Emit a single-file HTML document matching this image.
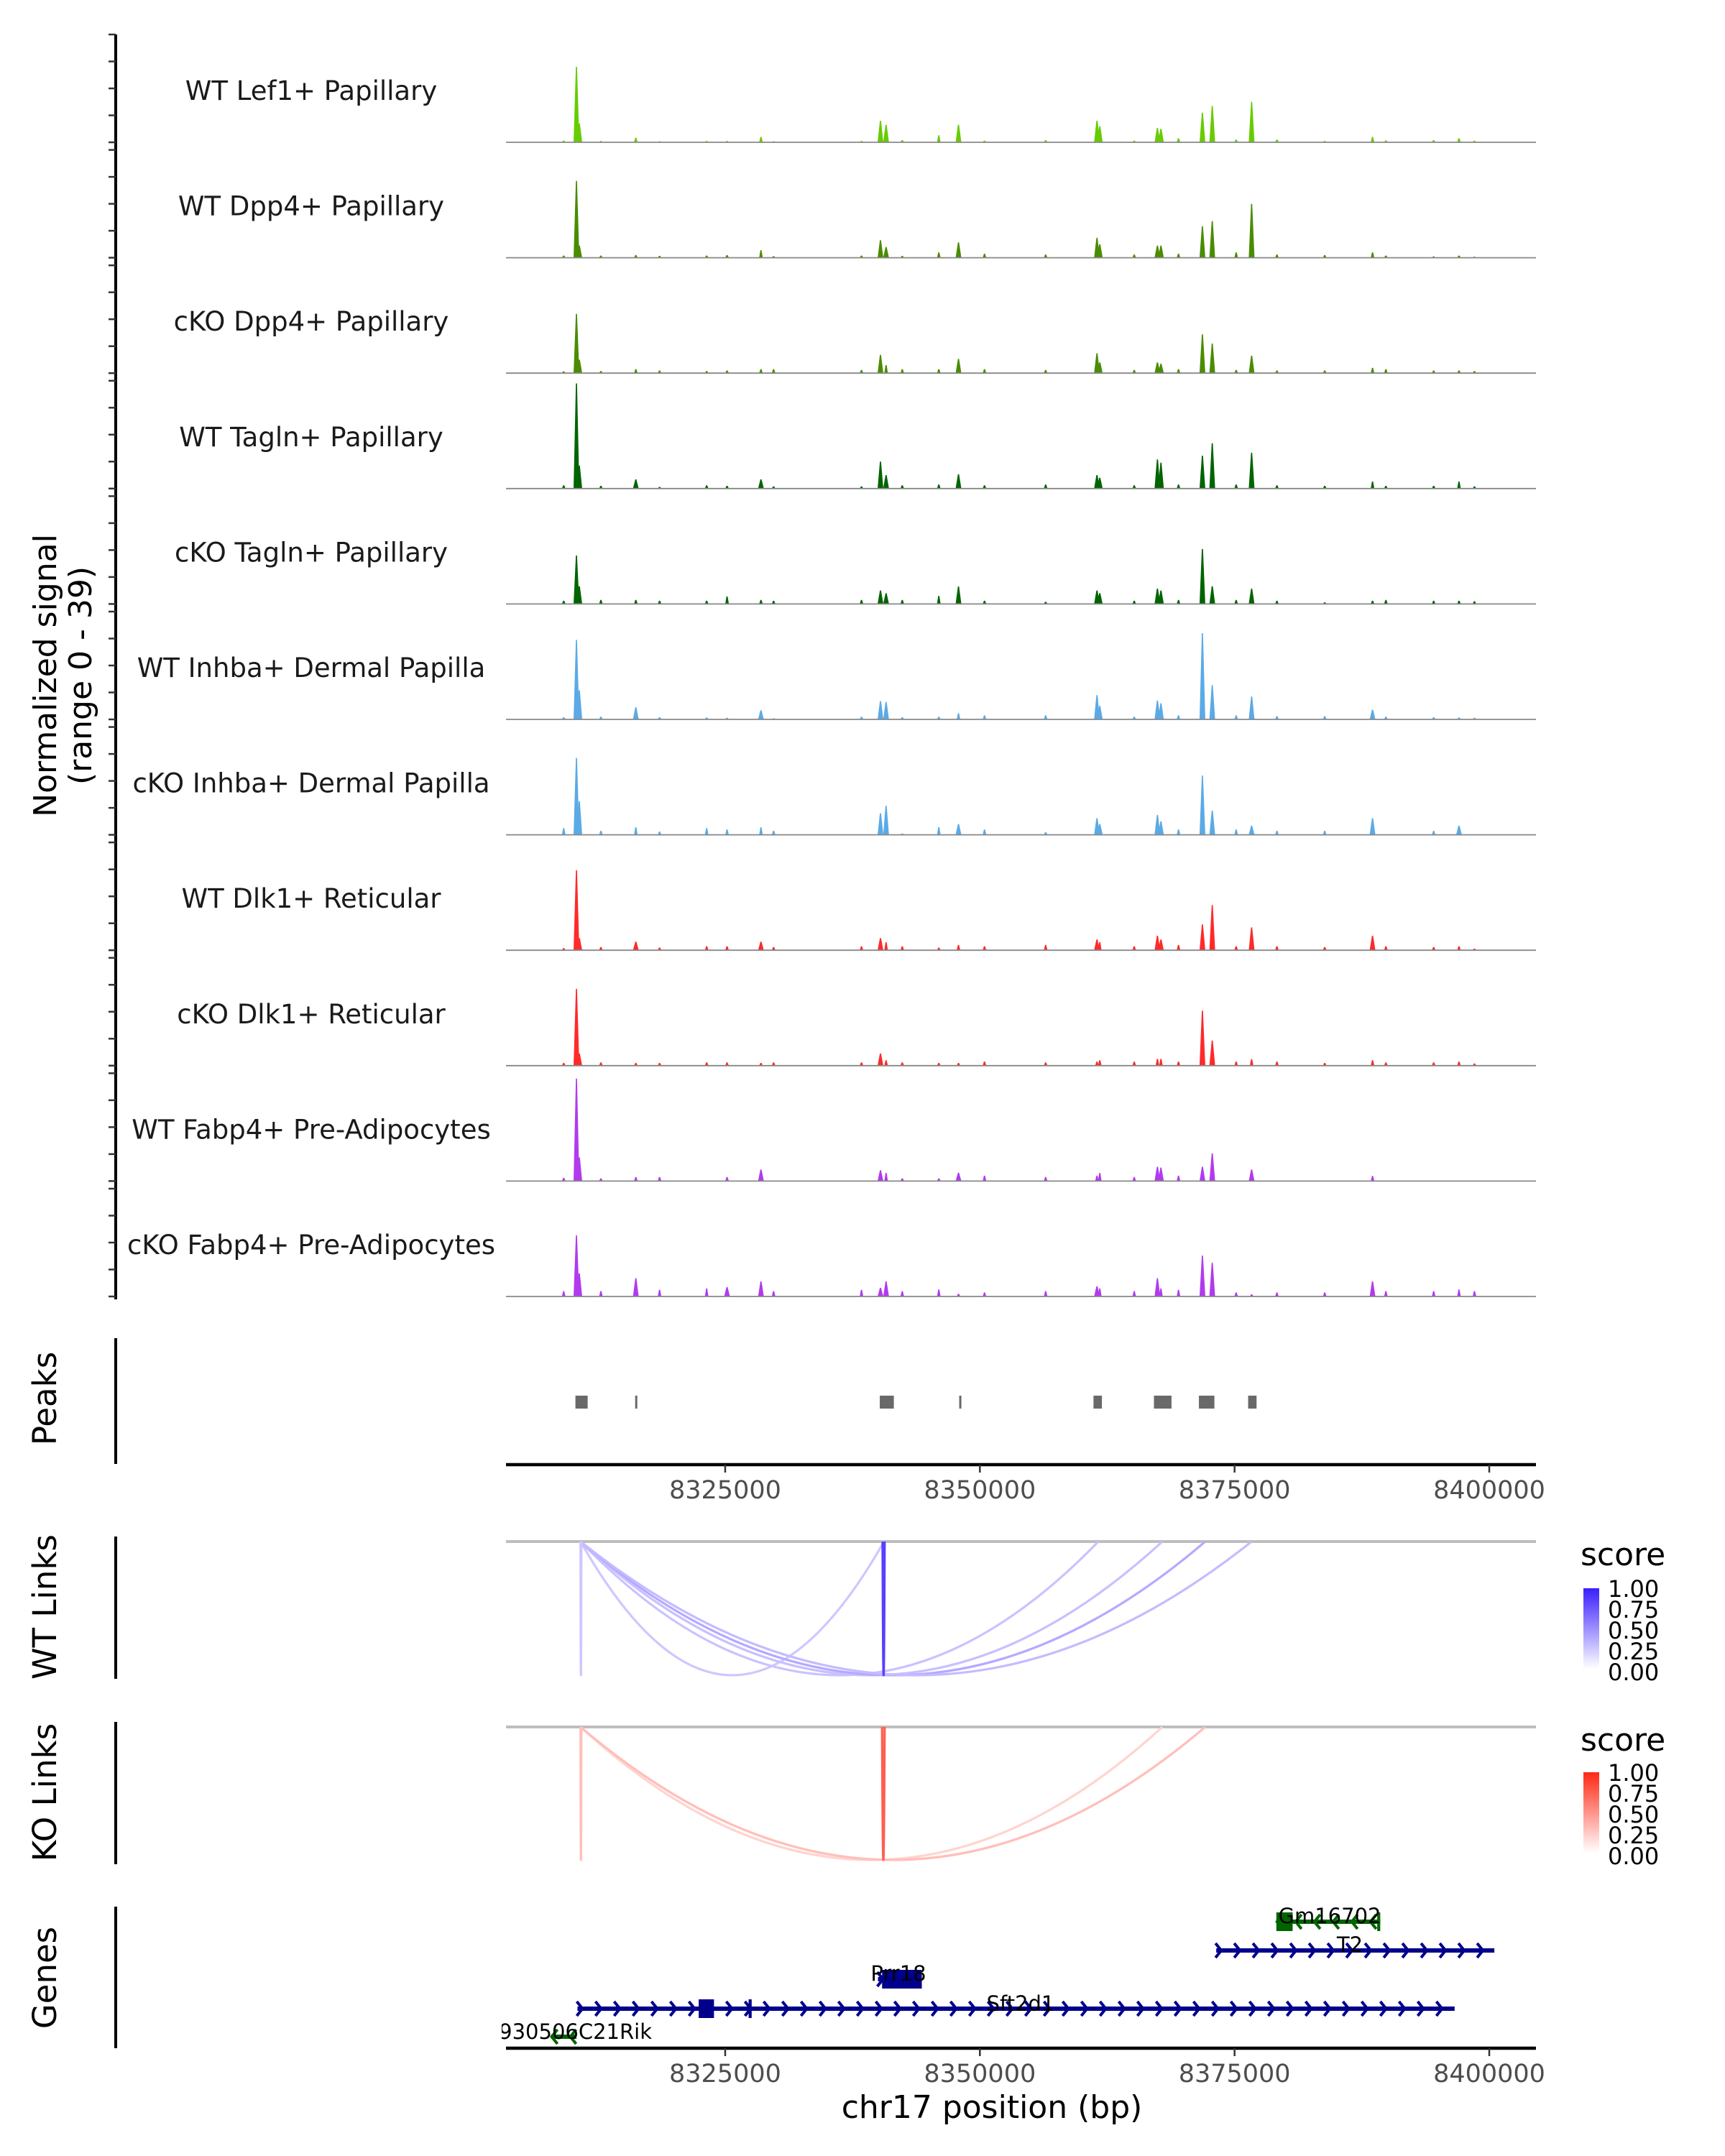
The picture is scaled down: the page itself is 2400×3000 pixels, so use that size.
<!DOCTYPE html>
<html><head><meta charset="utf-8">
<style>
html,body{margin:0;padding:0;background:#fff;}
svg{display:block;font-family:"DejaVu Sans","Liberation Sans",sans-serif;}
</style></head>
<body>
<svg id="chart" xmlns="http://www.w3.org/2000/svg" width="2400" height="3000" viewBox="0 0 2400 3000">
<rect x="0" y="0" width="2400" height="3000" fill="#fff"/>
<text x="0" y="0" transform="translate(78,940) rotate(-90)" text-anchor="middle" font-size="44" fill="#000">Normalized signal</text>
<text x="0" y="0" transform="translate(127,940) rotate(-90)" text-anchor="middle" font-size="44" fill="#000">(range 0 - 39)</text>
<text x="0" y="0" transform="translate(78,1946) rotate(-90)" text-anchor="middle" font-size="45" fill="#000">Peaks</text>
<text x="0" y="0" transform="translate(78,2236) rotate(-90)" text-anchor="middle" font-size="45" fill="#000">WT Links</text>
<text x="0" y="0" transform="translate(78,2494) rotate(-90)" text-anchor="middle" font-size="45" fill="#000">KO Links</text>
<text x="0" y="0" transform="translate(78,2752) rotate(-90)" text-anchor="middle" font-size="45" fill="#000">Genes</text>
<line x1="161" y1="48" x2="161" y2="1808" stroke="#000" stroke-width="4"/>
<line x1="161" y1="1862" x2="161" y2="2037" stroke="#000" stroke-width="4"/>
<line x1="161" y1="2138" x2="161" y2="2336" stroke="#000" stroke-width="4"/>
<line x1="161" y1="2396" x2="161" y2="2594" stroke="#000" stroke-width="4"/>
<line x1="161" y1="2653" x2="161" y2="2850" stroke="#000" stroke-width="4"/>
<text x="2199" y="2178" font-size="44" fill="#000">score</text>
<text x="2199" y="2436" font-size="44" fill="#000">score</text>
<text x="1380" y="2947" text-anchor="middle" font-size="44" fill="#000">chr17 position (bp)</text>
<g id="g"></g>
</svg>
<script>
// ---- data ----
const trackNames = ["WT Lef1+ Papillary","WT Dpp4+ Papillary","cKO Dpp4+ Papillary","WT Tagln+ Papillary","cKO Tagln+ Papillary","WT Inhba+ Dermal Papilla","cKO Inhba+ Dermal Papilla","WT Dlk1+ Reticular","cKO Dlk1+ Reticular","WT Fabp4+ Pre-Adipocytes","cKO Fabp4+ Pre-Adipocytes"];
const binPositions = [8309150,8310400,8310680,8312800,8316230,8318559,8323182,8325183,8328512,8329754,8338379,8340242,8340794,8342381,8345969,8347901,8350454,8356457,8361494,8361770,8365151,8367428,8367773,8369498,8371844,8372810,8375156,8376674,8379158,8383850,8388542,8389853,8394545,8397029,8398547];
const covLef1WT = [0.6,28,7,0.5,1.7,0.4,0.5,0.5,2,0.4,0.5,8,6.5,0.8,2.6,6.5,0.6,0.8,8,6,0.6,5.3,5,1.5,11,13.5,1,15,1,0.5,2,0.7,0.8,1.5,0.6];
const covDpp4WT = [0.8,28.5,4.5,0.8,1,0.7,0.8,1,2.8,0.6,0.8,6.5,4,0.7,2,5.7,1.5,1.2,7.4,5,1.2,4.5,4.5,1.5,11.7,13.6,2,20,1.2,1,2,0.8,0.5,0.8,0.4];
const covDpp4KO = [0.7,22,5,0.8,1.5,1,0.8,1,1.5,1.5,1.2,6.8,3,1.5,1.5,5.3,1.5,1.2,7.4,4,1.2,4,3.5,1.5,14.4,11,1.2,6.5,1,1,2,1.5,1,1,0.8];
const covTaglnWT = [1.2,39,8.5,1,3.4,0.6,1.2,1,3.4,0.8,0.8,10,5,1.2,1.5,5.3,1.2,1.5,5,4,1.2,10.8,9.6,1.5,12.2,16.8,1.5,13.3,1.2,1,2.6,1,1,2.6,0.8];
const covTaglnKO = [1.2,18,6.6,1.5,1.5,1.2,1.2,2.8,1.5,1.2,1.5,5,4,1.5,3,6.5,1.2,0.8,5,4,1.2,5.7,5,1.5,20.4,6.6,1.5,5.7,1.2,0.6,1.2,1.5,1.2,1.2,1];
const covInhbaWT = [0.8,29.5,10.8,1,4.5,0.8,0.7,0.6,3.4,0.4,1,6.8,6.5,0.8,1,2.3,1.5,1.5,9,5,1,7,6,1.5,32,12.7,1.5,8.5,1.2,1.2,3.6,1,0.8,0.7,0.6];
const covInhbaKO = [2.5,28.5,12.5,1.5,2.8,1.2,2.5,2,2.8,1.5,0,8,10.8,0.5,2.8,4,2,1,6.2,4,0,7.4,5,2,22,9,2,3.4,1.5,1.5,6.2,0,1.5,3.4,0];
const covDlk1WT = [0.8,29.7,4.5,1.2,3.2,1,1.5,1.5,3.2,1.2,1.5,4.5,3,1.5,1,2,1.5,2,4,3,1.5,5.4,4,2,9.6,16.8,1.5,8.5,1.5,1.2,5.4,1.5,1.2,1.5,0.6];
const covDlk1KO = [1,28.5,4.5,1.2,1,1,1.2,1.2,1,1.2,1.2,4.5,2,1.2,1,1,1.5,1.2,1.5,2,1.5,2.5,2.5,1.5,20.4,9.3,1.5,2.4,1.5,1,2,1.2,1.2,1.5,0.8];
const covFabp4WT = [1.2,38,8.8,1,1.5,1.5,0,1.5,4.3,0,0,4,3,1,1,3.1,2,1.5,2,3,1.5,5.3,5,2,5.3,10.3,0,4.3,0,0,1.9,0,0,0,0];
const covFabp4KO = [2,22.7,8.6,2,6.8,2.5,3,3.5,5.6,2,2.5,3.2,5.6,2,2.6,1,1.5,2,3.8,3,2,6.8,3,2.5,15.2,12.5,1.5,0.8,1.5,1.5,5.6,2,2,2.6,2];
const peakStarts = [8310300,8316162,8340175,8347972,8361151,8367085,8371501,8376331];
const peakEnds   = [8311500,8316369,8341555,8348110,8361979,8368810,8373019,8377159];
const xTicks = [8325000,8350000,8375000,8400000];
const xTickLabels = ["8325000","8350000","8375000","8400000"];
const wtLinkStart = [8310800,8310800,8310800,8310800,8310800,8310800,8340450];
const wtLinkEnd   = [8340587,8361632,8367911,8372120,8376674,8310880,8340650];
const wtLinkScore = [0.25,0.27,0.28,0.38,0.3,0.25,0.85];
const koLinkStart = [8310800,8310800,8310800,8340400];
const koLinkEnd   = [8367911,8372120,8310880,8340650];
const koLinkScore = [0.2,0.3,0.3,0.75];
const legendLabels = ["1.00","0.75","0.50","0.25","0.00"];
const geneNames  = ["Gm16702","T2","Prr18","Sft2d1","4930506C21Rik"];
const geneStart  = [8379100,8373200,8340000,8310500,8307900];
const geneEnd    = [8389300,8400500,8344300,8396600,8310400];
const geneStrand = [-1,1,1,1,-1];

// ---- scales ----
const X0=704, X1=2137, BP0=8303485, BP1=8404585;
function xs(bp){return X0+(bp-BP0)/(BP1-BP0)*(X1-X0);}
const BASE0=198, TSTEP=160.6, PXU=3.75;
function trackBase(i){return BASE0+TSTEP*i;}
function ys(v,i){return trackBase(i)-v*PXU;}
const NS="http://www.w3.org/2000/svg";
const G=document.getElementById('g');
function mk(tag,attrs,parent){const e=document.createElementNS(NS,tag);for(const k in attrs)e.setAttribute(k,attrs[k]);(parent||G).appendChild(e);return e;}

const covSeries=[covLef1WT,covDpp4WT,covDpp4KO,covTaglnWT,covTaglnKO,covInhbaWT,covInhbaKO,covDlk1WT,covDlk1KO,covFabp4WT,covFabp4KO];
const colors=["#66cc00","#4a8c00","#4a8c00","#006400","#006400","#5aaae6","#5aaae6","#ff2a2a","#ff2a2a","#b23aee","#b23aee"];

// coverage tracks
for(let i=0;i<trackNames.length;i++){
  const b=trackBase(i);
  const lab=mk('text',{x:433,y:b-59,'text-anchor':'middle','font-size':37,fill:'#1a1a1a'});
  lab.textContent=trackNames[i];
  
  
  for(let t=0;t<=40;t+=10){
    const tk=mk('line',{x1:151,x2:161,y1:ys(t,i),y2:ys(t,i),stroke:'#333','stroke-width':2.5});
    
    
  }
  const grp=mk('g',{fill:colors[i]});
  
  
  const vals=covSeries[i];
  for(let j=0;j<binPositions.length;j++){
    const v=vals[j]; if(v<=0) continue;
    const x=xs(binPositions[j]); const y=ys(v,i);
    const w=v>3?4:2.5;
    const p=mk('polygon',{points:`${x-w},${b} ${x-0.8},${y} ${x+0.8},${y} ${x+w},${b}`},grp);
    
    
  }
  const bl=mk('line',{x1:X0,x2:X1,y1:b,y2:b,stroke:'#888','stroke-width':1.8});
  
  
}

// peaks
for(let j=0;j<peakStarts.length;j++){
  const x1=xs(peakStarts[j]), x2=xs(peakEnds[j]);
  const r=mk('rect',{x:x1,y:1942,width:Math.max(3,x2-x1),height:18,fill:'#696969'});
  
  
}

// x axes
function xAxis(y,name){
  const l=mk('line',{x1:X0,x2:X1,y1:y,y2:y,stroke:'#000','stroke-width':4.5});
  
  
  for(let k=0;k<xTicks.length;k++){
    const x=xs(xTicks[k]);
    const t=mk('line',{x1:x,x2:x,y1:y,y2:y+11,stroke:'#333','stroke-width':2.5});
    
    
    const tl=mk('text',{x:x,y:y+47,'text-anchor':'middle','font-size':35,fill:'#4d4d4d'});
    tl.textContent=xTickLabels[k];
    
    
  }
}
xAxis(2038,'peaks-x-axis');
xAxis(2850,'genes-x-axis');

// links
function mix(c,s){return `rgb(${Math.round(255+(c[0]-255)*s)},${Math.round(255+(c[1]-255)*s)},${Math.round(255+(c[2]-255)*s)})`;}
function links(starts,ends,scores,top,bot,col,name){
  const gl=mk('line',{x1:X0,x2:X1,y1:top,y2:top,stroke:'#bebebe','stroke-width':4});
  
  
  for(let j=0;j<starts.length;j++){
    const a=xs(starts[j]), c=xs(ends[j]);
    const cy=top+(bot-top)*2;
    const p=mk('path',{d:`M${a},${top} Q${(a+c)/2},${cy} ${c},${top}`,fill:'none',stroke:mix(col,scores[j]),'stroke-width':3.2});
    
    
  }
}
links(wtLinkStart,wtLinkEnd,wtLinkScore,2145,2331,[58,30,255],'wt-link');
links(koLinkStart,koLinkEnd,koLinkScore,2403,2588,[255,40,20],'ko-link');

// legends
function legend(top,col,name){
  const id=name+'-grad';
  const defs=mk('defs',{});
  const lg=mk('linearGradient',{id:id,x1:0,y1:0,x2:0,y2:1},defs);
  mk('stop',{offset:'0','stop-color':mix(col,1)},lg);
  mk('stop',{offset:'1','stop-color':'#ffffff'},lg);
  const r=mk('rect',{x:2203,y:top,width:22,height:112,fill:`url(#${id})`});
  
  
  for(let k=0;k<legendLabels.length;k++){
    const t=mk('text',{x:2237,y:top+k*29+12,'font-size':32,fill:'#000'});
    t.textContent=legendLabels[k];
    
    
  }
}
legend(2210,[58,30,255],'wt-legend');
legend(2466,[255,40,20],'ko-legend');

// genes
const geneY=[2674,2714,2754,2795,2834];
const geneCol=["#006400","#00008b","#00008b","#00008b","#006400"];
const clip=mk('clipPath',{id:'gclip'});
mk('rect',{x:X0-6,y:2600,width:X1-X0+12,height:250},clip);
const gg=mk('g',{'clip-path':'url(#gclip)'});


for(let j=0;j<geneNames.length;j++){
  const x1=xs(geneStart[j]), x2=xs(geneEnd[j]), y=geneY[j], c=geneCol[j];
  const ln=mk('line',{x1:x1,x2:x2,y1:y,y2:y,stroke:c,'stroke-width':6},gg);
  
  
  let d='';
  for(let x=x1+4;x<=x2;x+=26){
    if(geneStrand[j]>0) d+=`M${x-5},${y-10} L${x+3},${y} L${x-5},${y+10} `;
    else d+=`M${x+5},${y-10} L${x-3},${y} L${x+5},${y+10} `;
  }
  const ch=mk('path',{d:d,fill:'none',stroke:c,'stroke-width':4},gg);
  
  
}
// exon boxes
const exonGene=[0,2,3,3,0];
const exonStart=[8379100,8340400,8322400,8327300,8389000];
const exonEnd  =[8380700,8344300,8323900,8327600,8389300];
for(let j=0;j<exonGene.length;j++){
  const gi=exonGene[j], x1=xs(exonStart[j]), x2=xs(exonEnd[j]), y=geneY[gi];
  const r=mk('rect',{x:x1,y:y-13,width:Math.max(4,x2-x1),height:26,fill:geneCol[gi]},gg);
  
  
}
const labY=[2676,2716,2756,2798,2837];
const labX=[1850,1878,1250,1420,907];
for(let j=0;j<geneNames.length;j++){
  const t=mk('text',{x:labX[j],y:labY[j],'text-anchor':j===4?'end':'middle','font-size':29,fill:'#000'},gg);
  t.textContent=geneNames[j];
  
  
}
</script>
</body></html>
